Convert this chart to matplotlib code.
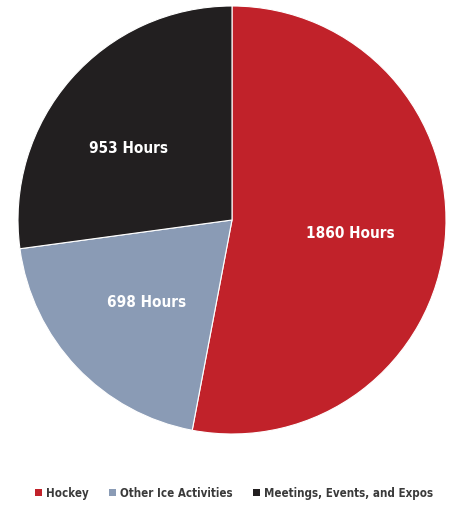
import numpy as np
import matplotlib
matplotlib.use("Agg")
import matplotlib.pyplot as plt
from matplotlib.patches import Patch

categories = ["Hockey", "Other Ice Activities", "Meetings, Events, and Expos"]
hours = [1860, 698, 953]
labels = ["1860 Hours", "698 Hours", "953 Hours"]
colors = ["#C1222A", "#8A9BB5", "#221F20"]
label_r = [0.555, 0.55, 0.59]
label_da = [-0.5, 0, 6]

fig = plt.figure(figsize=(4.54, 5.06), dpi=100)
ax = fig.add_axes([18/454, (506-435)/506, 428/454, 428/506])
wedges, _ = ax.pie(hours, colors=colors, startangle=90, counterclock=False,
                   radius=1.0, center=(0, 0),
                   wedgeprops=dict(edgecolor="white", linewidth=0.8))
ax.set_xlim(-1, 1)
ax.set_ylim(-1, 1)
ax.set_aspect("auto")
ax.axis("off")

for w, lab, r, da in zip(wedges, labels, label_r, label_da):
    ang = np.deg2rad((w.theta1 + w.theta2) / 2 + da)
    ax.text(r*np.cos(ang), r*np.sin(ang), lab, ha="center", va="center",
            color="white", fontsize=11, fontweight="bold", fontstretch="condensed")

handles = [Patch(facecolor=c, edgecolor="none") for c in colors]
fig.legend(handles, categories, loc="center", bbox_to_anchor=(0.515, 1-494/506),
           ncol=3, frameon=False, handlelength=0.6, handleheight=0.6,
           handletextpad=0.35, columnspacing=1.75,
           prop=dict(weight="bold", size=8.3, stretch="condensed"),
           labelcolor="#3a3a3a")

fig.savefig("out.png", dpi=100)
